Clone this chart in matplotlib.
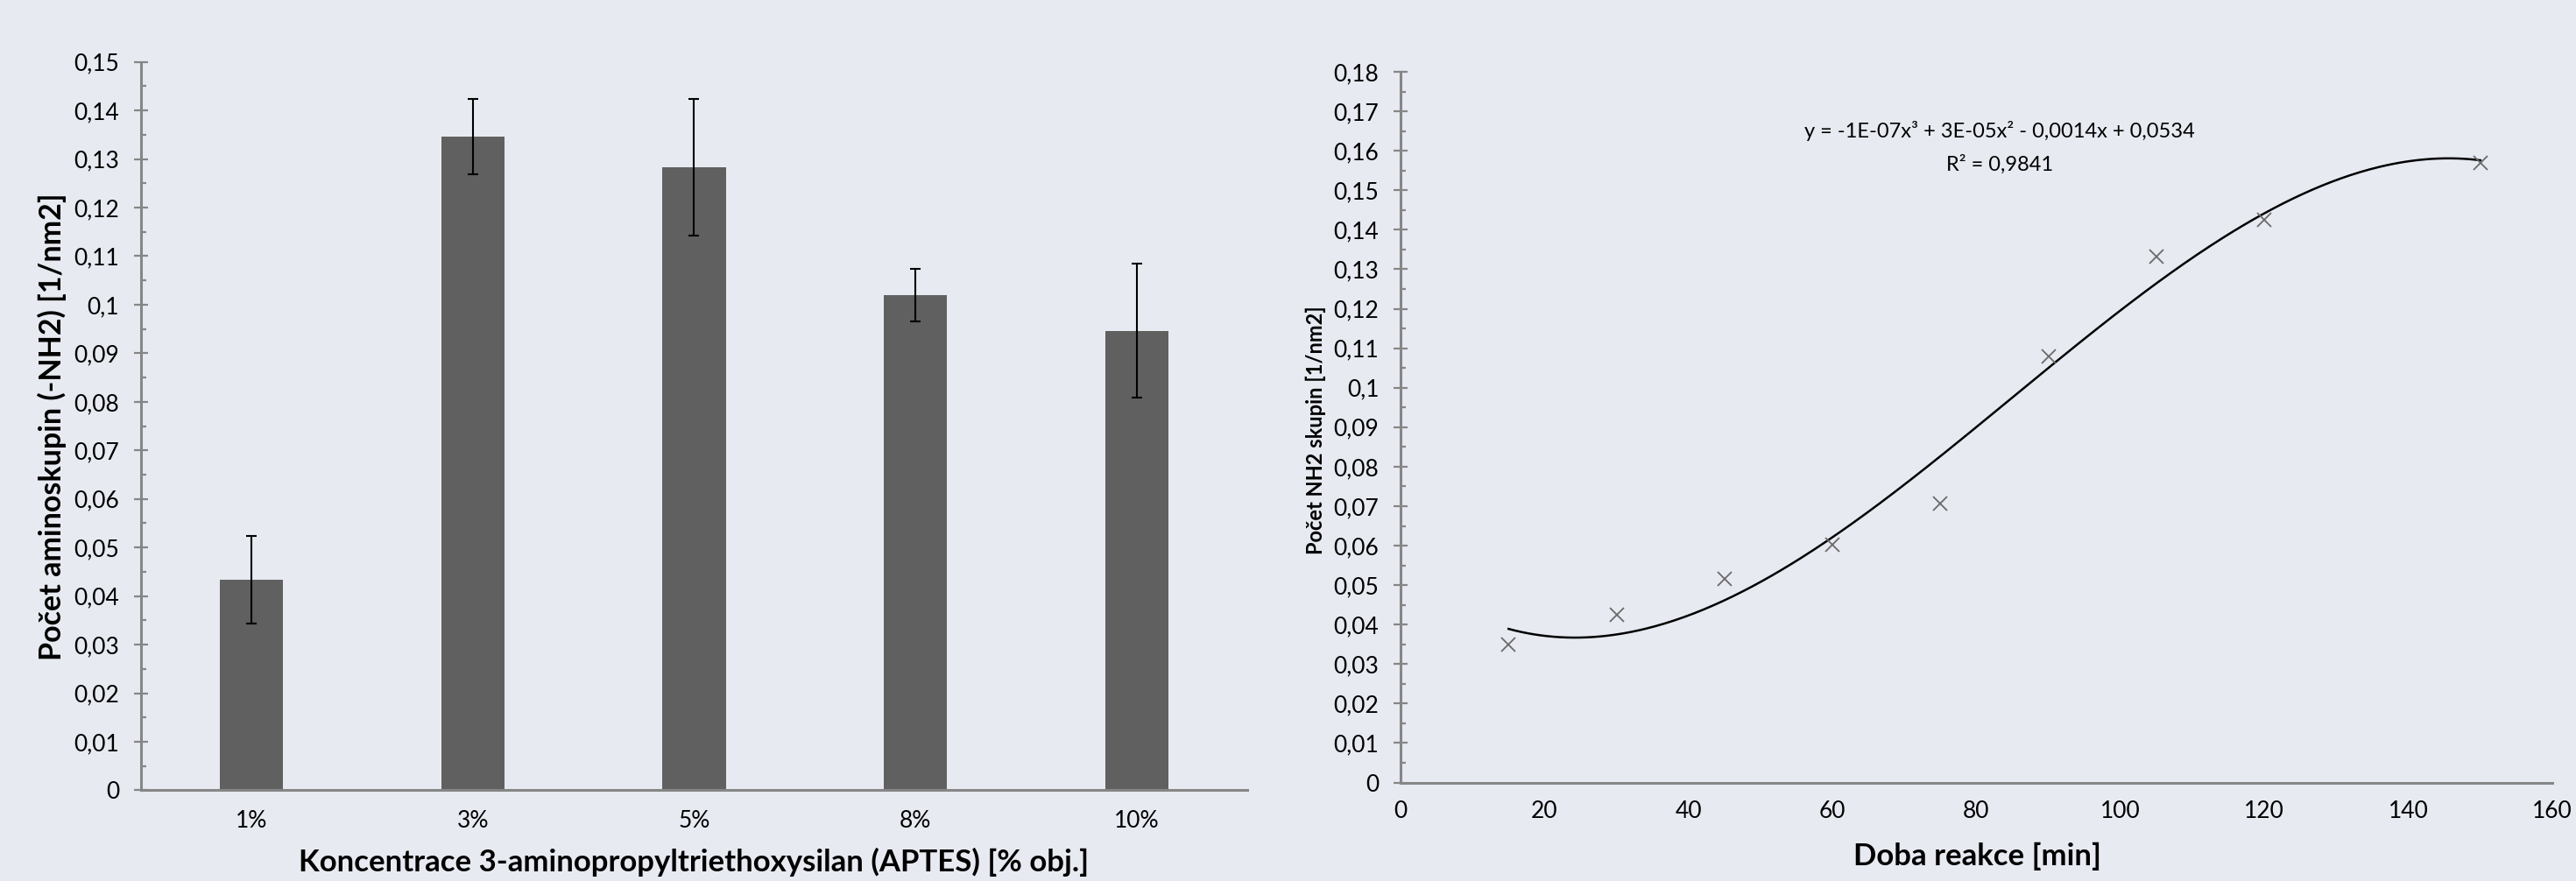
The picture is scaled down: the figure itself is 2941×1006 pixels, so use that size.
import numpy as np
import matplotlib
matplotlib.use("Agg")
import matplotlib.pyplot as plt
from matplotlib.ticker import MultipleLocator, FuncFormatter

# ---- data ----
categories = ["1%", "3%", "5%", "8%", "10%"]
bar_values = [0.0433, 0.1346, 0.1283, 0.1020, 0.0946]
bar_errors = [0.0090, 0.0078, 0.0141, 0.0054, 0.0138]

time_min = [15, 30, 45, 60, 75, 90, 105, 120, 150]
nh2_values = [0.0350, 0.0425, 0.0515, 0.0603, 0.0706, 0.1080, 0.1332, 0.1426, 0.1569]

eq_line1 = "y = -1E-07x³ + 3E-05x² - 0,0014x + 0,0534"
eq_line2 = "R² = 0,9841"

left_xlabel = "Koncentrace 3-aminopropyltriethoxysilan (APTES) [% obj.]"
left_ylabel = "Počet aminoskupin (-NH2) [1/nm2]"
right_xlabel = "Doba reakce [min]"
right_ylabel = "Počet NH2 skupin [1/nm2]"

BG = "#E7EAF1"
AX_GRAY = "#868686"
FONT = ["Lato", "DejaVu Sans"]

def comma_fmt(v, pos):
    s = f"{v:.2f}".rstrip("0").rstrip(".")
    return s.replace(".", ",")

fig = plt.figure(figsize=(29.41, 10.06), dpi=100, facecolor=BG)

def style_axes(ax, xpad):
    ax.set_facecolor(BG)
    for s in ["top", "right"]:
        ax.spines[s].set_visible(False)
    for s in ["left", "bottom"]:
        ax.spines[s].set_color(AX_GRAY)
        ax.spines[s].set_linewidth(2.2)
    ax.yaxis.set_major_formatter(FuncFormatter(comma_fmt))
    ax.tick_params(axis="y", which="major", direction="inout", length=11.5, width=1.6, color=AX_GRAY,
                   labelsize=19, pad=12)
    ax.tick_params(axis="y", which="minor", direction="in", length=4.5, width=1.6, color=AX_GRAY)
    ax.tick_params(axis="x", which="both", length=0, labelsize=19, pad=xpad)
    for lab in ax.get_xticklabels() + ax.get_yticklabels():
        lab.set_family(FONT)

# ---- left: bar chart ----
ax1 = fig.add_axes([0.0547, 0.1029, 0.4295, 0.8269])
x = np.arange(len(categories))
ax1.bar(x, bar_values, width=0.2857, color="#606060", zorder=2)
ax1.errorbar(x, bar_values, yerr=bar_errors, fmt="none", ecolor="black",
             elinewidth=1.5, capsize=4.5, capthick=1.5, zorder=3)
ax1.set_xlim(-0.5, len(categories) - 0.5)
ax1.set_ylim(0, 0.15)
ax1.yaxis.set_major_locator(MultipleLocator(0.01))
ax1.yaxis.set_minor_locator(MultipleLocator(0.005))
ax1.set_xticks(x)
ax1.set_xticklabels(categories)
style_axes(ax1, 16)
ax1.set_xlabel(left_xlabel, fontsize=25, fontweight="bold", family=FONT, va="baseline")
ax1.xaxis.set_label_coords(0.5, -0.1118)
ax1.set_ylabel(left_ylabel, fontsize=24.5, fontweight="bold", family=FONT, va="center")
ax1.yaxis.set_label_coords(-0.080, 0.499)

# ---- right: scatter with cubic trendline ----
ax2 = fig.add_axes([0.5437, 0.1118, 0.4471, 0.8066])
ax2.plot(time_min, nh2_values, linestyle="none", marker="x", markersize=12,
         markeredgewidth=1.3, color="#6A6A6A", zorder=3)
coef = np.polyfit(time_min, nh2_values, 3)
xs = np.linspace(min(time_min), max(time_min), 300)
ax2.plot(xs, np.polyval(coef, xs), color="black", linewidth=1.8, zorder=2)
ax2.set_xlim(0, 160)
ax2.set_ylim(0, 0.18)
ax2.xaxis.set_major_locator(MultipleLocator(20))
ax2.yaxis.set_major_locator(MultipleLocator(0.01))
ax2.yaxis.set_minor_locator(MultipleLocator(0.005))
style_axes(ax2, 15)
ax2.set_xlabel(right_xlabel, fontsize=25, fontweight="bold", family=FONT, va="baseline")
ax2.xaxis.set_label_coords(0.501, -0.1165)
ax2.set_ylabel(right_ylabel, fontsize=17, fontweight="bold", family=FONT, va="center")
ax2.yaxis.set_label_coords(-0.0738, 0.4964)
ax2.text(0.520, 0.9072, eq_line1, transform=ax2.transAxes, ha="center", va="baseline",
         fontsize=17, family=FONT)
ax2.text(0.520, 0.8615, eq_line2, transform=ax2.transAxes, ha="center", va="baseline",
         fontsize=17, family=FONT)

fig.savefig("out.png", dpi=100, facecolor=BG)
